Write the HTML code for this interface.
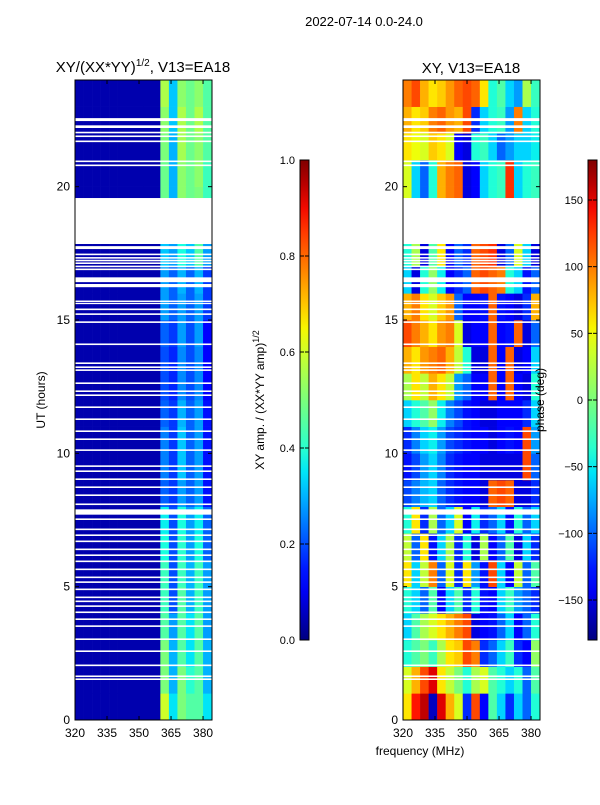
<!DOCTYPE html>
<html><head><meta charset="utf-8"><style>
body{margin:0;background:#fff;font-family:"Liberation Sans",sans-serif;}
svg text{font-family:"Liberation Sans",sans-serif;}
</style></head><body>
<svg id="fig" width="600" height="800" xmlns="http://www.w3.org/2000/svg">
<text x="364" y="26" font-size="13" text-anchor="middle">2022-07-14 0.0-24.0</text>
<text x="143" y="72" font-size="15" text-anchor="middle">XY/(XX*YY)<tspan font-size="10" dy="-6">1/2</tspan><tspan dy="6">, V13=EA18</tspan></text>
<text x="471" y="73" font-size="15" text-anchor="middle">XY, V13=EA18</text>
<text x="420" y="755" font-size="12" text-anchor="middle">frequency (MHz)</text>
<text transform="translate(45,400) rotate(-90)" font-size="12" text-anchor="middle">UT (hours)</text>
<text transform="translate(264,400) rotate(-90)" font-size="12" text-anchor="middle">XY amp. / (XX*YY amp)<tspan font-size="9" dy="-5">1/2</tspan></text>
<g id="left"></g>
<g id="right"></g>
<text transform="translate(544,400) rotate(-90)" font-size="12" text-anchor="middle">phase (deg)</text>
<g id="cbars"></g>
</svg>
<script>
const freqs=[320,324,328,332,336,340,344,348,352,356,360,364,368,372,376,380];
const hours=[0,1,2,3,4,5,6,7,8,9,10,11,12,13,14,15,16,17,18,19,20,21,22,23];
const xTicks=[320,335,350,365,380];
const yTicks=[0,5,10,15,20];
const ampTicks=[0.0,0.2,0.4,0.6,0.8,1.0];
const phaseTicks=[-150,-100,-50,0,50,100,150];
const ampRows=[
[0.04,0.04,0.04,0.04,0.04,0.04,0.04,0.04,0.04,0.04,0.6,0.35,0.5,0.45,0.45,0.35],
[0.04,0.04,0.04,0.04,0.04,0.04,0.04,0.04,0.04,0.04,0.5,0.3,0.5,0.4,0.45,0.3],
[0.04,0.04,0.04,0.04,0.04,0.04,0.04,0.04,0.04,0.04,0.5,0.3,0.45,0.35,0.45,0.3],
[0.04,0.04,0.04,0.04,0.04,0.04,0.04,0.04,0.04,0.04,0.45,0.28,0.45,0.35,0.45,0.28],
[0.04,0.04,0.04,0.04,0.04,0.04,0.04,0.04,0.04,0.04,0.42,0.2,0.45,0.3,0.42,0.28],
[0.04,0.04,0.04,0.04,0.04,0.04,0.04,0.04,0.04,0.04,0.42,0.2,0.42,0.3,0.42,0.28],
[0.04,0.04,0.04,0.04,0.04,0.04,0.04,0.04,0.04,0.04,0.38,0.2,0.4,0.28,0.38,0.22],
[0.04,0.04,0.04,0.04,0.04,0.04,0.04,0.04,0.04,0.04,0.36,0.2,0.38,0.28,0.36,0.22],
[0.04,0.04,0.04,0.04,0.04,0.04,0.04,0.04,0.04,0.04,0.22,0.18,0.28,0.22,0.28,0.14],
[0.04,0.04,0.04,0.04,0.04,0.04,0.04,0.04,0.04,0.04,0.25,0.18,0.32,0.22,0.28,0.14],
[0.04,0.04,0.04,0.04,0.04,0.04,0.04,0.04,0.04,0.04,0.25,0.18,0.32,0.22,0.28,0.14],
[0.04,0.04,0.04,0.04,0.04,0.04,0.04,0.04,0.04,0.04,0.22,0.18,0.3,0.22,0.28,0.14],
[0.04,0.04,0.04,0.04,0.04,0.04,0.04,0.04,0.04,0.04,0.2,0.16,0.26,0.2,0.26,0.12],
[0.04,0.04,0.04,0.04,0.04,0.04,0.04,0.04,0.04,0.04,0.2,0.16,0.26,0.2,0.26,0.12],
[0.04,0.04,0.04,0.04,0.04,0.04,0.04,0.04,0.04,0.04,0.22,0.18,0.28,0.2,0.28,0.12],
[0.04,0.04,0.04,0.04,0.04,0.04,0.04,0.04,0.04,0.04,0.28,0.22,0.28,0.22,0.28,0.18],
[0.04,0.04,0.04,0.04,0.04,0.04,0.04,0.04,0.04,0.04,0.28,0.22,0.3,0.22,0.3,0.18],
[0.04,0.04,0.04,0.04,0.04,0.04,0.04,0.04,0.04,0.04,0.32,0.28,0.38,0.32,0.45,0.28],
[0.04,0.04,0.04,0.04,0.04,0.04,0.04,0.04,0.04,0.04,0.32,0.28,0.38,0.32,0.45,0.28],
[0.04,0.04,0.04,0.04,0.04,0.04,0.04,0.04,0.04,0.04,0.48,0.3,0.52,0.48,0.5,0.42],
[0.04,0.04,0.04,0.04,0.04,0.04,0.04,0.04,0.04,0.04,0.48,0.3,0.52,0.48,0.52,0.42],
[0.04,0.04,0.04,0.04,0.04,0.04,0.04,0.04,0.04,0.04,0.5,0.3,0.55,0.48,0.52,0.45],
[0.04,0.04,0.04,0.04,0.04,0.04,0.04,0.04,0.04,0.04,0.52,0.32,0.56,0.48,0.56,0.45],
[0.04,0.04,0.04,0.04,0.04,0.04,0.04,0.04,0.04,0.04,0.56,0.32,0.52,0.48,0.52,0.45]];
const phaseRows=[
[60,140,160,-160,150,80,40,-120,120,-140,-20,-60,-120,-60,-100,-40],
[40,80,120,150,60,30,0,-40,20,40,-20,-40,-60,-40,-100,-20],
[-40,-20,0,-30,20,60,70,120,100,-120,-100,-60,-30,-120,-140,10],
[-60,-20,20,40,60,80,100,120,-150,-140,-130,-100,-60,-140,-100,-40],
[-40,-60,-100,-20,-140,-60,-20,-120,-40,-130,-140,-60,-30,-80,-100,-120],
[60,-60,30,100,-100,40,-120,60,-80,-130,120,-60,-140,30,-100,-20],
[30,-100,60,-130,-60,20,-120,-40,-150,20,-140,-100,-20,-150,-60,-120],
[-40,60,-120,20,-100,-60,40,-140,-50,-120,-100,-60,-130,-40,-100,-60],
[-110,-90,-70,-60,-100,-120,-130,-140,-140,-150,110,120,110,-150,-150,-120],
[-130,-110,-80,-60,-90,-120,-130,-140,-140,-150,-150,-150,-150,-150,120,-100],
[-120,-90,-60,-50,-80,-110,-120,-130,-140,-140,-150,-140,-130,-140,120,-80],
[-60,-40,-20,10,-50,-90,-110,-130,-140,-150,-150,-140,-140,-140,-120,-60],
[20,60,30,80,60,30,-80,-100,-140,-140,110,-140,110,-140,-150,-40],
[80,60,90,100,110,80,30,-40,-150,-150,110,-140,110,-150,-140,-60],
[120,100,80,60,90,100,40,-150,-140,-140,110,-140,-130,110,-150,-100],
[80,100,60,40,70,90,-100,-140,-140,-130,110,-130,-140,-150,-120,80],
[-60,-150,-40,10,-50,-140,-120,-100,110,120,110,100,-40,-60,-130,-100],
[-40,20,-150,-20,60,-140,-100,-120,110,120,130,-150,-100,40,-60,-150],
[-40,20,-150,-20,60,-140,-100,-120,110,120,130,-150,-100,40,-60,-150],
[40,-60,-100,-40,80,100,110,-150,-140,-60,-40,-30,130,-60,-40,-30],
[40,-60,-100,-40,80,100,110,-150,-140,-60,-40,-30,130,-60,-40,-30],
[60,50,40,70,60,40,-140,-150,-40,-30,-60,-100,-80,-60,-60,-50],
[80,60,70,100,110,90,80,120,-120,-60,-40,-30,-80,100,-60,-40],
[100,120,80,60,70,90,110,120,110,60,-40,-20,-60,-80,20,-30]];
const gapStarts=[1.5,1.61,2.02,2.55,3.0,3.49,3.75,4.01,4.24,4.42,4.57,4.87,5.14,5.32,5.62,5.92,6.15,6.37,6.67,6.9,7.12,7.5,7.7,8.06,8.4,8.7,9.0,9.3,9.49,10.09,10.5,10.8,11.25,11.7,12.15,12.3,12.6,13.09,13.2,13.35,14.06,14.89,15.19,15.37,15.6,15.67,16.23,16.42,16.87,16.98,17.1,17.2,17.3,17.43,17.66,17.85,20.77,20.92,21.67,21.86,22.0,22.2,22.46];
const gapEnds=[1.56,1.67,2.08,2.61,3.06,3.55,3.81,4.07,4.3,4.48,4.63,4.93,5.2,5.38,5.68,5.98,6.21,6.43,6.73,6.96,7.18,7.56,7.9,8.12,8.46,8.76,9.06,9.36,9.55,10.15,10.56,10.86,11.31,11.76,12.21,12.36,12.66,13.15,13.26,13.41,14.12,14.95,15.25,15.43,15.64,15.73,16.35,16.6,16.93,17.04,17.16,17.26,17.36,17.49,17.77,19.57,20.83,20.98,21.73,21.92,22.06,22.3,22.57];
const NS="http://www.w3.org/2000/svg";
const svg=document.getElementById('fig');
function jetc(t){t=Math.max(0,Math.min(1,t));
 function seg(p,pts){for(let i=1;i<pts.length;i++){if(p<=pts[i][0]){const a=pts[i-1],b=pts[i];return a[1]+(b[1]-a[1])*(p-a[0])/(b[0]-a[0]);}}return pts[pts.length-1][1];}
 const r=seg(t,[[0,0],[0.35,0],[0.66,1],[0.89,1],[1,0.5]]);
 const g=seg(t,[[0,0],[0.125,0],[0.375,1],[0.64,1],[0.91,0],[1,0]]);
 const b=seg(t,[[0,0.5],[0.11,1],[0.34,1],[0.65,0],[1,0]]);
 return `rgb(${Math.round(r*255)},${Math.round(g*255)},${Math.round(b*255)})`;}
function mk(tag,attrs,parent){const e=document.createElementNS(NS,tag);for(const k in attrs)e.setAttribute(k,attrs[k]);(parent||svg).appendChild(e);return e;}
const Y0=720,PXH=640/24,FMIN=320,FMAX=384.2,PW=137;
function yS(h){return Y0-h*PXH;}
function panel(gid,x0,rows,norm){
 const g=document.getElementById(gid);
 const xS=f=>x0+(f-FMIN)*PW/(FMAX-FMIN);
 rows.forEach((row,ri)=>{row.forEach((v,ci)=>{
  const f=freqs[ci],f2=Math.min(f+4,FMAX);
  const r=mk('rect',{x:xS(f),y:yS(hours[ri]+1),width:xS(f2)-xS(f)+0.3,height:PXH+0.3,fill:jetc(norm(v))},g);
  
  
 });});
 mk('rect',{x:x0,y:yS(19.57),width:PW,height:yS(17.85)-yS(19.57),fill:'#fff'},g);
 gapStarts.forEach((s,i)=>{const r=mk('rect',{x:x0,y:yS(gapEnds[i]),width:PW,height:Math.max(1.2,yS(s)-yS(gapEnds[i])),fill:'#fff'},g);
  
  });
 const fr=mk('rect',{x:x0,y:80,width:PW,height:640,fill:'none',stroke:'#000','stroke-width':1},g);
 
 
 xTicks.forEach(t=>{const x=xS(t);mk('line',{x1:x,x2:x,y1:720,y2:716,stroke:'#000'},g);mk('line',{x1:x,x2:x,y1:80,y2:84,stroke:'#000'},g);
  const tx=mk('text',{x:x,y:737,'font-size':12,'text-anchor':'middle'},g);tx.textContent=t;
  
  });
 yTicks.forEach(t=>{const y=yS(t);mk('line',{x1:x0,x2:x0+4,y1:y,y2:y,stroke:'#000'},g);mk('line',{x1:x0+PW,x2:x0+PW-4,y1:y,y2:y,stroke:'#000'},g);
  const tx=mk('text',{x:x0-5,y:y+4,'font-size':12,'text-anchor':'end'},g);tx.textContent=t;
  
  });
}
panel('left',75,ampRows,v=>v);
panel('right',403,phaseRows,v=>(v+180)/360);
function cbar(x,ticks,vmin,vmax,name){
 const g=mk('g',{});
 
 
 const id=name+'-grad';
 const defs=mk('defs',{},g);const lg=mk('linearGradient',{id:id,x1:0,y1:1,x2:0,y2:0},defs);
 for(let i=0;i<=20;i++)mk('stop',{offset:i/20,'stop-color':jetc(i/20)},lg);
 mk('rect',{x:x,y:160,width:9,height:480,fill:`url(#${id})`,stroke:'#000','stroke-width':1},g);
 ticks.forEach(t=>{const y=640-(t-vmin)/(vmax-vmin)*480;
  mk('line',{x1:x+9,x2:x+5,y1:y,y2:y,stroke:'#000'},g);mk('line',{x1:x,x2:x+4,y1:y,y2:y,stroke:'#000'},g);
  const tx=mk('text',{x:x-5,y:y+4,'font-size':11,'text-anchor':'end'},g);
  tx.textContent=name==='amp-colorbar'?t.toFixed(1):String(t).replace('-','\u2212');
  
  });
}
cbar(300,ampTicks,0,1,'amp-colorbar');
cbar(588,phaseTicks,-180,180,'phase-colorbar');
</script>
</body></html>
